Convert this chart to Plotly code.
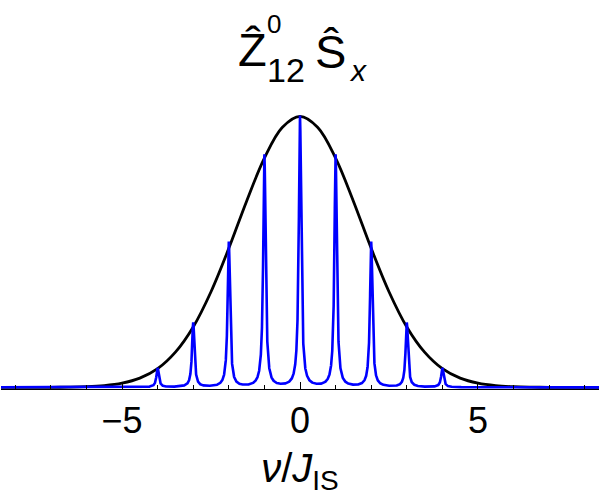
import numpy as np
import plotly.graph_objects as go

# line positions (units of J_IS) and relative intensities
peak_pos = [-4, -3, -2, -1, 0, 1, 2, 3, 4]
peak_height = [0.071, 0.238, 0.536, 0.857, 1.0, 0.857, 0.536, 0.238, 0.071]
line_hwhm = 0.04

# envelope (black curve)
env_x = [-8.5, -8, -7.5, -7, -6.5, -6, -5.5, -5, -4.5, -4, -3.5, -3, -2.5, -2, -1.5, -1, -0.5,
         0, 0.5, 1, 1.5, 2, 2.5, 3, 3.5, 4, 4.5, 5, 5.5, 6, 6.5, 7, 7.5, 8, 8.5]
env_y = [0.0, 0.00002, 0.0001, 0.0003, 0.0009, 0.0025, 0.0065, 0.0155, 0.034, 0.069, 0.130, 0.223,
         0.353, 0.513, 0.687, 0.846, 0.959,
         1.0, 0.959, 0.846, 0.687, 0.513, 0.353, 0.223, 0.130, 0.069, 0.034, 0.0155, 0.0065, 0.0025,
         0.0009, 0.0003, 0.0001, 0.00002, 0.0]

W, H = 600, 496
L, R, T, B = 1, 1, 105, 107
x_range = [-8.4, 8.4]
y_range = [-0.006, 1.042]

# spectrum: sum of Lorentzian lines
grid = np.linspace(-8.5, 8.5, 17001)
spec = np.zeros_like(grid)
for p, h in zip(peak_pos, peak_height):
    spec += h * line_hwhm**2 / ((grid - p) ** 2 + line_hwhm**2)

fig = go.Figure()
fig.add_trace(go.Scatter(x=env_x, y=env_y, mode="lines",
                         line=dict(color="black", width=2.8, shape="spline"),
                         hoverinfo="skip"))
fig.add_trace(go.Scatter(x=grid, y=spec, mode="lines",
                         line=dict(color="#0000ff", width=2.6),
                         hoverinfo="skip"))


def px(x):
    return (x - L) / (W - L - R)


def py(y):
    return (H - B - y) / (H - T - B)


font = "Liberation Sans, Arial, sans-serif"
title_parts = [
    ("Ẑ", 252, 50, 47),
    ("0", 274, 24, 26),
    ("12", 286, 70, 34),
    ("Ŝ", 330, 51, 47),
    ("<i>x</i>", 358, 71, 30),
]
for txt, xx, yy, fs in title_parts:
    fig.add_annotation(text=txt, x=px(xx), y=py(yy), xref="paper", yref="paper",
                       xanchor="center", yanchor="middle", showarrow=False,
                       font=dict(family=font, size=fs, color="black"))

fig.update_layout(
    width=W, height=H,
    margin=dict(l=L, r=R, t=T, b=B),
    plot_bgcolor="white", paper_bgcolor="white",
    showlegend=False,
    font=dict(family=font, color="black"),
    xaxis=dict(
        range=x_range, showgrid=False, zeroline=False,
        showline=True, linecolor="black", linewidth=1.2,
        ticks="inside", tick0=0, dtick=5, ticklen=7, tickwidth=1, tickcolor="black",
        minor=dict(ticks="inside", dtick=1, ticklen=4, tickwidth=1, tickcolor="black"),
        tickfont=dict(size=36, family=font, color="black"),
        title=dict(text="<i>ν</i>/<i>J</i><sub>IS</sub>", font=dict(size=40, family=font),
                   standoff=16),
        automargin=False,
    ),
    yaxis=dict(range=y_range, visible=False),
)

fig.write_html("out.html", config={"displayModeBar": False},
               post_script="document.body.style.margin='0';")
